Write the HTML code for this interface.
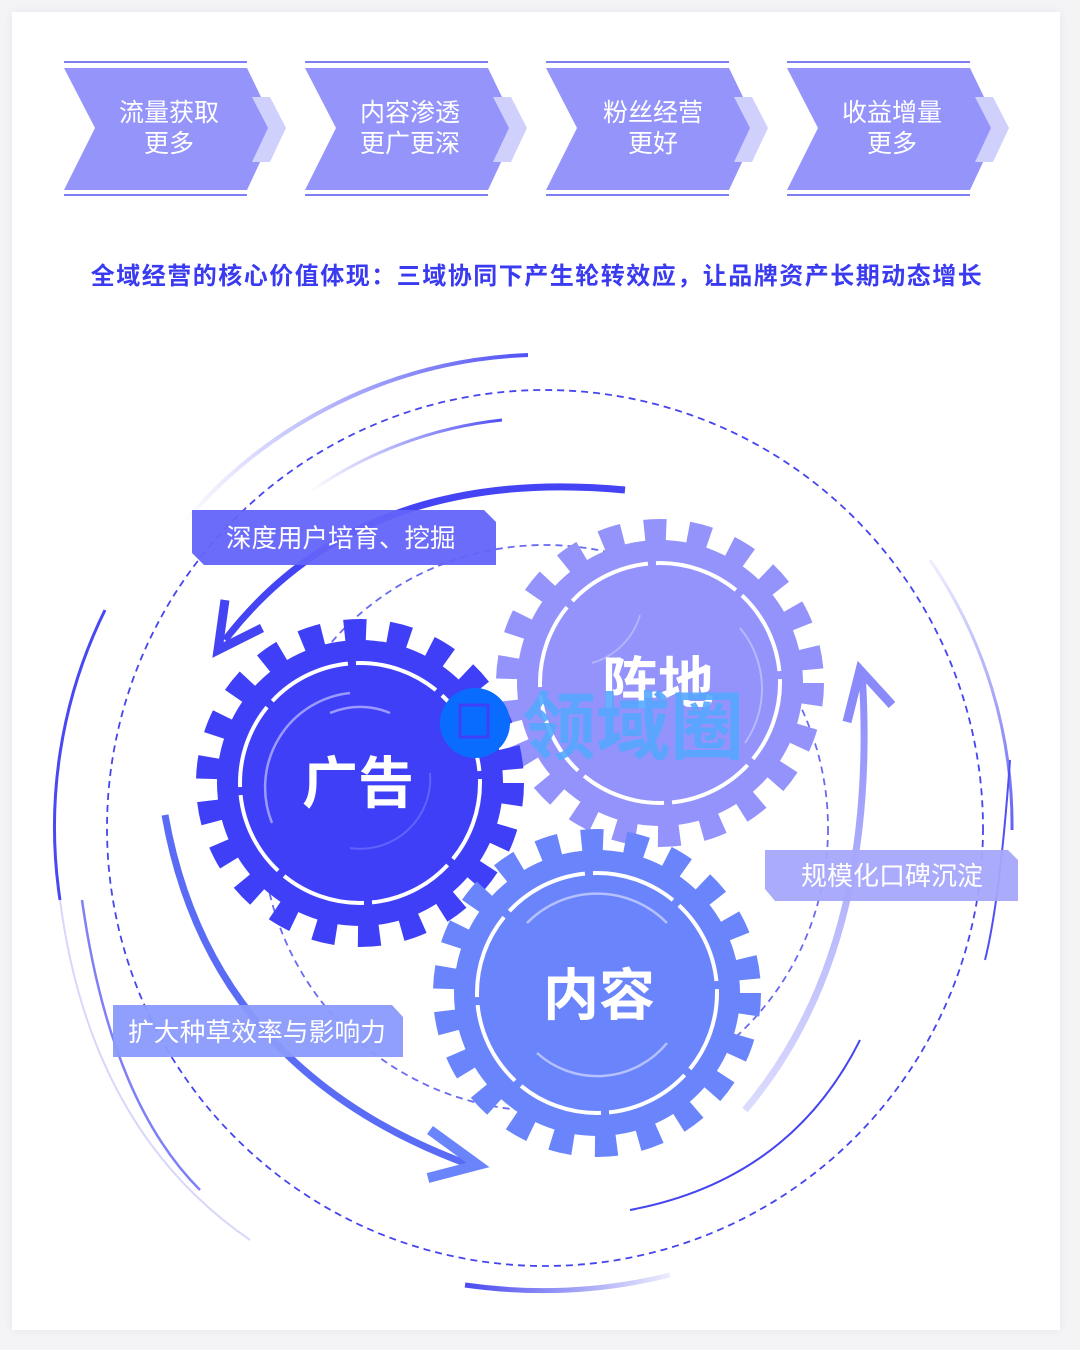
<!DOCTYPE html>
<html><head><meta charset="utf-8"><style>
html,body{margin:0;padding:0;background:#f4f4f7;}
body{width:1080px;height:1350px;position:relative;overflow:hidden;font-family:"Liberation Sans","Noto Sans CJK SC",sans-serif;}
.card{position:absolute;left:12px;top:12px;width:1048px;height:1318px;background:#fff;box-shadow:0 0 10px rgba(0,0,0,0.06);}
svg{position:absolute;left:0;top:0;}
</style></head><body>
<div class="card"></div>
<svg width="1080" height="1350" viewBox="0 0 1080 1350" font-family="Liberation Sans, Noto Sans CJK SC, sans-serif">
<defs>
<linearGradient id="gTop" x1="1" y1="0" x2="0" y2="0"><stop offset="0" stop-color="#5050f5"/><stop offset="1" stop-color="#5050f5" stop-opacity="0"/></linearGradient>
<linearGradient id="gBot" x1="0" y1="0" x2="1" y2="0"><stop offset="0" stop-color="#4a4af0"/><stop offset="1" stop-color="#4a4af0" stop-opacity="0.1"/></linearGradient>
<linearGradient id="gR" x1="0" y1="1" x2="0" y2="0"><stop offset="0" stop-color="#6060f5"/><stop offset="1" stop-color="#6060f5" stop-opacity="0.1"/></linearGradient>
<linearGradient id="gA3" x1="0" y1="1" x2="0" y2="0"><stop offset="0" stop-color="#8a8afb" stop-opacity="0.3"/><stop offset="1" stop-color="#8a8afb"/></linearGradient>
</defs>

<g id="chev">
<line x1="64" y1="62" x2="247" y2="62" stroke="#5555f0" stroke-width="1.5"/>
<line x1="64" y1="195" x2="247" y2="195" stroke="#5555f0" stroke-width="1.5"/>
<polygon points="64,68 247,68 276,128 247,190 64,190 95,128" fill="#9494fb"/>
<polygon points="252,97 270,97 286,128 270,162 252,162 268,128" fill="#d0d0fc"/>
</g>
<use href="#chev" x="241"/>
<use href="#chev" x="482"/>
<use href="#chev" x="723"/>
<g fill="#fff" font-size="25" text-anchor="middle">
<text x="169" y="121">流量获取</text><text x="169" y="152">更多</text>
<text x="410" y="121">内容渗透</text><text x="410" y="152">更广更深</text>
<text x="653" y="121">粉丝经营</text><text x="653" y="152">更好</text>
<text x="892" y="121">收益增量</text><text x="892" y="152">更多</text>
</g>
<text x="537" y="284" text-anchor="middle" font-size="24" font-weight="bold" fill="#3a3af0" letter-spacing="1.5">全域经营的核心价值体现：三域协同下产生轮转效应，让品牌资产长期动态增长</text>

<circle cx="545" cy="828" r="438" fill="none" stroke="#4545f0" stroke-width="1.8" stroke-dasharray="7 5"/>
<circle cx="545" cy="828" r="283" fill="none" stroke="#4545f0" stroke-width="1.8" stroke-dasharray="7 5" opacity="0.8"/>
<path d="M528,355 A473,473 0 0 0 183,524" fill="none" stroke="url(#gTop)" stroke-width="4"/>
<path d="M502,420 A410,410 0 0 0 310,492" fill="none" stroke="url(#gTop)" stroke-width="3"/>
<path d="M105,610 A490,490 0 0 0 60,900" fill="none" stroke="#4848f5" stroke-width="3"/>
<path d="M82,900 Q110,1100 200,1190" fill="none" stroke="#4848f5" stroke-width="2.5" opacity="0.7"/>
<path d="M60,900 Q90,1130 250,1240" fill="none" stroke="#b0b0f8" stroke-width="2" opacity="0.5"/>
<path d="M930,560 A467,467 0 0 1 1012,830" fill="none" stroke="url(#gR)" stroke-width="3"/>
<path d="M1010,760 Q1000,900 985,960" fill="none" stroke="#5050f5" stroke-width="2"/>
<path d="M630,1210 Q790,1180 860,1040" fill="none" stroke="#4545f0" stroke-width="2"/>
<path d="M465,1285 Q570,1300 670,1275" fill="none" stroke="url(#gBot)" stroke-width="5"/>

<path d="M625,490 Q360,465 225,640" fill="none" stroke="#4444f5" stroke-width="7"/>
<polyline points="225,600 218,650 262,628" fill="none" stroke="#4444f5" stroke-width="9"/>
<path d="M165,815 Q210,1070 470,1165" fill="none" stroke="#5a6cf5" stroke-width="7"/>
<polyline points="430,1130 478,1165 428,1178" fill="none" stroke="#6a84fb" stroke-width="10"/>
<path d="M745,1110 Q880,950 862,672" fill="none" stroke="url(#gA3)" stroke-width="7"/>
<polyline points="847,722 860,670 892,705" fill="none" stroke="#8a8afb" stroke-width="9"/>

<g transform="translate(660,683)">
<circle r="143" fill="#9393fb"/>
<circle r="153" fill="none" stroke="#9393fb" stroke-width="22" stroke-dasharray="22 22.06" stroke-linecap="butt"/>
<circle r="120" fill="none" stroke="#fff" stroke-width="4" stroke-dasharray="86.2 8" stroke-dashoffset="4" transform="rotate(-90)"/>
<path d="M-20,-68 A70,70 0 0 1 -68,-20" fill="none" stroke="#c8c8ff" stroke-width="2" opacity="0.6"/>
<path d="M80,-55 A95,95 0 0 1 85,60" fill="none" stroke="#c8c8ff" stroke-width="2" opacity="0.7"/>
<text x="-2" y="20" text-anchor="middle" font-size="56" font-weight="bold" fill="#fff">阵地</text>
</g>
<g transform="translate(360,783)">
<circle r="143" fill="#3f3ff8"/>
<circle r="153" fill="none" stroke="#3f3ff8" stroke-width="22" stroke-dasharray="22 22.06"/>
<circle r="120" fill="none" stroke="#fff" stroke-width="4" stroke-dasharray="86.2 8" stroke-dashoffset="4" transform="rotate(-90)"/>
<path d="M-10,-90 A95,95 0 0 0 -88,40" fill="none" stroke="#9a9aff" stroke-width="2.5"/>
<path d="M-30,-70 A76,76 0 0 1 30,-70" fill="none" stroke="#9a9aff" stroke-width="2.5"/>
<path d="M-10,65 A70,70 0 0 0 70,-10" fill="none" stroke="#6262ff" stroke-width="2"/>
<text x="-2" y="20" text-anchor="middle" font-size="56" font-weight="bold" fill="#fff">广告</text>
</g>
<g transform="translate(597,993)">
<circle r="143" fill="#6a84fb"/>
<circle r="153" fill="none" stroke="#6a84fb" stroke-width="22" stroke-dasharray="22 22.06"/>
<circle r="120" fill="none" stroke="#fff" stroke-width="4" stroke-dasharray="86.2 8" stroke-dashoffset="4" transform="rotate(-90)"/>
<path d="M-70,-70 A98,98 0 0 1 70,-70" fill="none" stroke="#b4c0ff" stroke-width="2.5"/>
<path d="M-60,60 A90,90 0 0 0 70,50" fill="none" stroke="#b4c0ff" stroke-width="2.5"/>
<text x="2" y="22" text-anchor="middle" font-size="56" font-weight="bold" fill="#fff">内容</text>
</g>

<circle cx="475" cy="723" r="35" fill="#0a6cff"/>
<rect x="460" y="705" width="28" height="32" fill="none" stroke="#3f3ff8" stroke-width="3"/>
<text x="522" y="753" font-size="74" font-weight="bold" fill="#55a8ff" opacity="0.9">领域圈</text>

<polygon points="192,510 484,510 496,522 496,565 204,565 192,553" fill="#6464fa" opacity="0.95"/>
<text x="226" y="547" font-size="25.5" fill="#fff">深度用户培育、挖掘</text>
<polygon points="765,850 1008,850 1018,860 1018,901 775,901 765,889" fill="#a7a7fb" opacity="0.95"/>
<text x="801" y="885" font-size="26" fill="#fff">规模化口碑沉淀</text>
<polygon points="113,1005 392,1005 403,1017 403,1057 113,1057" fill="#8a9afb" opacity="0.95"/>
<text x="128" y="1041" font-size="25.8" fill="#fff">扩大种草效率与影响力</text>
</svg>
</body></html>
